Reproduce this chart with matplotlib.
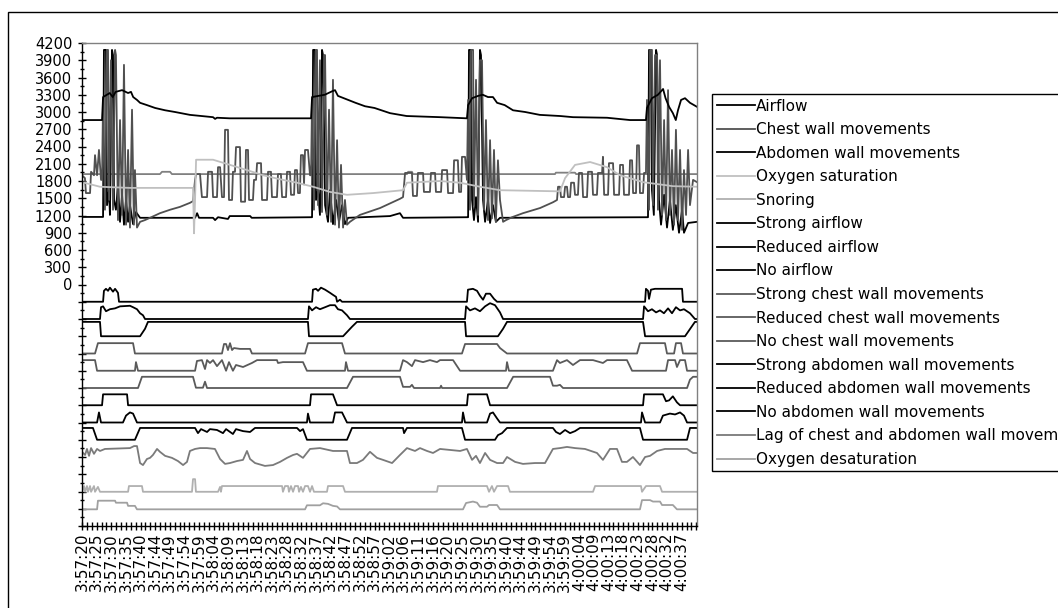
import matplotlib
matplotlib.use("Agg")
import matplotlib.pyplot as plt
from matplotlib.patches import Rectangle
from matplotlib.ticker import FixedLocator, FuncFormatter, MultipleLocator

# x = sample number, 10 samples between two time labels
time_labels = ['3:57:20', '3:57:25', '3:57:30', '3:57:35', '3:57:40', '3:57:44', '3:57:49',
               '3:57:54', '3:57:59', '3:58:04', '3:58:09', '3:58:13', '3:58:18', '3:58:23',
               '3:58:28', '3:58:32', '3:58:37', '3:58:42', '3:58:47', '3:58:52', '3:58:57',
               '3:59:02', '3:59:06', '3:59:11', '3:59:16', '3:59:20', '3:59:25', '3:59:30',
               '3:59:35', '3:59:40', '3:59:44', '3:59:49', '3:59:54', '3:59:59', '4:00:04',
               '4:00:09', '4:00:13', '4:00:18', '4:00:23', '4:00:28', '4:00:32', '4:00:37']

# --- raw signals ---
airflow_t = [0, 13.7, 14.4, 15, 16.4, 17.1, 18.5, 19.1, 20.5, 21.2, 21.9, 23.2, 24.6, 26, 27.4, 28.7,
             30.1, 31.5, 32.8, 34.9, 36.9, 39.7, 56.8, 77.3, 78.7, 80, 89.6, 91, 93, 99.8, 101, 115,
             116, 156.6, 157.3, 158, 159.3, 160, 161.4, 162.7, 164.1, 164.8, 166.2, 168.2, 169.6,
             171.6, 173.7, 175.7, 177.8, 179.8, 181.9, 210.6, 217.4, 219.5, 263.2, 264, 264.6, 266,
             266.7, 268, 269.4, 270.8, 272.1, 272.8, 274.2, 275.6, 277.6, 279, 281, 283, 285.8,
             386.3, 387, 387.7, 389, 389.7, 391, 392.5, 393.2, 394.5, 395.9, 398, 400, 402, 404,
             406, 408.2, 410.3, 411.6, 414.4, 420.5]
airflow_v = [1175, 1175, 1175, 4080, 4080, 1380, 1640, 1210, 4080, 3990, 1470, 1300, 1730, 1090, 1560,
             1040, 1470, 1090, 1380, 1050, 1260, 1160, 1160, 1160, 1240, 1160, 1160, 1120, 1170, 1140,
             1190, 1190, 1160, 1170, 1170, 4080, 4080, 1470, 1640, 1210, 4080, 3990, 1380, 1090, 1640,
             1050, 1470, 1090, 1380, 1050, 1160, 1190, 1240, 1160, 1170, 1170, 4080, 4080, 1470, 1120,
             1520, 1090, 4080, 3990, 1470, 1090, 1470, 1070, 1380, 1090, 1160, 1170, 1170, 4080, 4080,
             1640, 1210, 4080, 3990, 1470, 1040, 1560, 990, 1470, 950, 1380, 900, 1300, 900, 1070, 1090]

chest_t = [0, 2, 2.7, 5.5, 6.2, 8.2, 8.9, 10.3, 11.6, 13, 13.7, 14.4, 15.7, 17.1, 17.8, 18.5, 19.8,
           21.2, 22.6, 23.2, 24.6, 26, 27.4, 28.7, 30.1, 31.5, 32.8, 34.2, 35.5, 36.2, 37.6, 39.7,
           43, 46.5, 53.3, 60.2, 67, 73.8, 75.9, 77.3, 78, 80.7, 82, 85.5, 86.2, 88.9, 89.6, 92.3,
           93, 94.4, 95.7, 97.1, 97.8, 99.8, 100.5, 102.6, 103.2, 104.6, 105.3, 108, 108.7, 111.5,
           112.1, 113.5, 114.2, 116.9, 117.6, 119, 119.7, 122.4, 123.1, 126.5, 127.2, 129.2, 129.9,
           133.3, 134, 136, 136.8, 139.5, 140.2, 142.2, 142.9, 145, 145.6, 147, 147.7, 149, 149.7,
           151.1, 151.8, 152.5, 154.5, 155.9, 156.6, 157.3, 158.6, 160, 160.7, 161.4, 162.7, 164.1,
           165.5, 166.2, 167.5, 168.9, 170.3, 171.6, 173, 174.4, 175.7, 177.1, 178.5, 179.8, 181.2,
           183.2, 190, 203.8, 217.4, 219.5, 220.9, 225.6, 226.3, 229, 229.7, 233.2, 233.8, 237.9,
           238.6, 241.4, 242, 245.5, 246.2, 249.6, 250.3, 253.7, 254.4, 257, 257.8, 259.2, 259.8,
           261.9, 263.2, 264, 265.3, 266, 267.4, 268, 269.4, 270.8, 272.1, 273.5, 274.9, 276.2,
           277.6, 279, 280.3, 281.7, 283, 284.4, 285.8, 287.9, 289.9, 294, 301.5, 313.2, 322, 324.8,
           325.5, 326.8, 327.5, 329.6, 330.3, 331.6, 332.3, 333.7, 334.4, 336.4, 337.1, 339.1, 339.8,
           341.9, 342.6, 345.3, 346, 348.7, 349.4, 352.1, 352.8, 355.6, 356.2, 357, 359.7, 360.3,
           363.1, 363.8, 367.2, 367.9, 369.9, 370.6, 374, 374.7, 376.1, 376.8, 378.8, 379.5, 380.8,
           381.5, 383.6, 384.3, 385.6, 386.3, 387.7, 388.4, 389.7, 390.4, 391.8, 393.2, 393.8, 395.2,
           396.6, 398, 399.3, 400.7, 402, 403.4, 404.8, 406.1, 407.5, 408.9, 410.3, 411.6, 413,
           414.4, 415.7, 417.8, 420.5]
chest_v = [1900, 1850, 1590, 1590, 1960, 1900, 2250, 1900, 2340, 1820, 1820, 3210, 1300, 4080, 4080,
           1470, 3900, 1300, 4080, 3990, 1120, 2860, 1210, 3820, 1040, 2340, 990, 3040, 1040, 1990,
           990, 1090, 1120, 1160, 1240, 1300, 1350, 1420, 1450, 1820, 1920, 1920, 1520, 1520, 1960,
           1960, 1520, 1520, 2040, 2040, 1520, 1520, 2690, 2690, 1470, 1470, 1960, 1960, 2390, 2390,
           1440, 1440, 2340, 2340, 1470, 1470, 1820, 1820, 2110, 2110, 1470, 1470, 1960, 1960, 1520,
           1520, 1920, 1920, 1520, 1520, 1960, 1960, 1560, 1560, 1990, 1990, 1590, 1590, 2250, 2250,
           1740, 2340, 2340, 1900, 1900, 3210, 1300, 4080, 4080, 1380, 3900, 1260, 3990, 3990, 1210,
           3040, 1090, 3560, 1040, 2510, 990, 2080, 990, 1470, 1040, 1090, 1210, 1330, 1490, 1520,
           1940, 1940, 1540, 1540, 1940, 1940, 1610, 1610, 1940, 1940, 1610, 1610, 1990, 1990, 1590,
           1590, 2160, 2160, 1610, 1610, 2220, 2220, 1820, 3210, 1300, 4080, 4080, 1380, 3560, 1210,
           3900, 3900, 1300, 2860, 1120, 2510, 1150, 2340, 1090, 2160, 1470, 1090, 1120, 1170, 1240,
           1330, 1430, 1470, 1700, 1700, 1520, 1520, 1700, 1700, 1520, 1520, 1770, 1770, 1560, 1560,
           1940, 1940, 1520, 1520, 1960, 1960, 1560, 1560, 1940, 1940, 2220, 1560, 1560, 2110, 2110,
           1560, 1560, 2080, 2080, 1560, 1560, 2160, 2160, 1590, 1590, 2420, 2420, 1590, 1590, 1940,
           1940, 3210, 1300, 4080, 4080, 1380, 3990, 3990, 1300, 3900, 1210, 2860, 1120, 3380, 1210,
           2340, 1040, 2690, 1120, 2340, 950, 1990, 1210, 2340, 1380, 1820, 1780]

abdomen_t = [0, 13.7, 14.4, 19, 21, 23, 27.4, 31.5, 33.5, 35, 37.6, 39.7, 44.4, 50, 56.8, 63.6, 73.8,
             89.6, 91, 92.3, 101, 156.6, 157.3, 166, 171, 173, 175, 180, 187, 193.5, 200, 210.6, 222,
             245, 263.2, 264, 266.7, 270.8, 274, 277.6, 281, 283.8, 289, 294.7, 303, 313, 327, 335.7,
             359, 374.7, 385.6, 386.3, 389.7, 393.8, 397.3, 399, 401.4, 404, 406, 407.5, 409.6, 412.3,
             415.7, 420.5]
abdomen_v = [2860, 2860, 3260, 3330, 3260, 3350, 3380, 3330, 3350, 3260, 3210, 3160, 3120, 3070, 3030,
             3000, 2950, 2910, 2880, 2900, 2890, 2890, 3260, 3300, 3360, 3380, 3280, 3230, 3160, 3100,
             3070, 2980, 2930, 2910, 2890, 3120, 3240, 3280, 3300, 3260, 3260, 3160, 3120, 3030, 3000,
             2950, 2930, 2910, 2900, 2860, 2860, 3070, 3240, 3300, 3400, 3240, 3090, 2980, 2860, 3030,
             3210, 3240, 3160, 3090]

o2sat_t = [0, 12.3, 32.8, 75.9, 76.6, 77.3, 78, 89.6, 101.2, 112.8, 123.8, 135.4, 147, 158, 169.6,
           181.2, 199, 219.5, 222.2, 244.8, 258.5, 272.1, 285.8, 326.8, 330.3, 337.1, 347.4, 359,
           367.9, 383.6, 404, 420.5]
o2sat_v = [1780, 1700, 1680, 1680, 890, 1470, 2170, 2170, 2080, 1990, 1900, 1830, 1770, 1700, 1610,
           1560, 1590, 1640, 1770, 1800, 1770, 1700, 1640, 1620, 1850, 2080, 2130, 2040, 1900, 1780,
           1710, 1700]

# flat grey trace near 1900 (not in the legend)
baseline_t = [0, 53.3, 54.7, 60.2, 61.5, 222.2, 223, 225.6, 226.3, 323.4, 324, 337.1, 337.8, 420.5]
baseline_v = [1920, 1920, 1960, 1960, 1920, 1920, 1960, 1960, 1920, 1920, 1945, 1945, 1920, 1920]

snoring_t = [0, 1.4, 2.1, 3.4, 4.1, 5.5, 6.2, 8.2, 8.9, 10.9, 12.3, 31.5, 32.1, 41, 41.7, 75.2, 75.9,
             77.3, 77.9, 93, 94.4, 95, 95.7, 136.8, 137.4, 138.8, 140.9, 141.5, 142.9, 144.3, 145.6,
             147.7, 148.4, 149.7, 151.1, 152.5, 154.5, 155.9, 157.3, 158.6, 167.5, 168.2, 178.5, 179.8,
             242.7, 243.4, 276.9, 278.3, 280.3, 281.7, 283.8, 291.3, 292.6, 349.4, 350.8, 382.2, 382.9,
             385.6, 395.2, 396.6, 420.5]
snoring_v = [-3605, -3505, -3605, -3505, -3605, -3505, -3605, -3505, -3605, -3520, -3605, -3605, -3505,
             -3505, -3605, -3605, -3385, -3385, -3605, -3605, -3520, -3605, -3505, -3505, -3605, -3505,
             -3505, -3605, -3505, -3605, -3505, -3505, -3605, -3520, -3605, -3505, -3505, -3605, -3505,
             -3605, -3605, -3505, -3505, -3605, -3605, -3505, -3505, -3605, -3505, -3605, -3505, -3505,
             -3605, -3605, -3505, -3505, -3605, -3505, -3505, -3605, -3605]

# --- event channels ---
strong_air_t = [0, 14.4, 15, 16.4, 17.8, 19.1, 21.2, 22.6, 24.6, 25.3, 157.3, 157.9, 160, 161.4, 163.4,
                166.2, 169.6, 171.6, 173.7, 174.4, 176.4, 177.8, 263.2, 263.9, 267.3, 270.1, 272.1,
                274.2, 276.2, 279, 281.7, 283.8, 385, 385.6, 387, 387.7, 389, 391.8, 410.3, 410.9, 420.5]
strong_air_v = [-300, -300, -110, -75, -110, -55, -125, -75, -145, -300, -300, -90, -75, -110, -55,
                -90, -145, -180, -215, -300, -265, -300, -300, -90, -75, -110, -195, -265, -160, -160,
                -250, -300, -300, -75, -110, -250, -90, -75, -75, -300, -300]

reduced_air_t = [0, 12.3, 13, 14.4, 16.4, 19.1, 22.6, 26, 32.8, 34.9, 37.6, 39.7, 41.7, 43.1, 154.5,
                 155.2, 157.3, 160, 162.7, 166.2, 169.6, 173, 175, 177.8, 181.2, 183.2, 261.9, 262.6,
                 265.3, 268.7, 272.1, 275.6, 279, 282.4, 285.8, 287.9, 383.6, 384.3, 387, 389.7,
                 392.5, 395.2, 397.9, 400.7, 403.4, 406.1, 408.9, 411.6, 415.7, 419.1, 420.5]
reduced_air_v = [-600, -600, -395, -380, -465, -430, -415, -380, -370, -395, -430, -500, -535, -600,
                 -600, -380, -450, -395, -430, -395, -360, -360, -430, -450, -535, -600, -600, -380,
                 -450, -415, -465, -380, -325, -360, -485, -600, -600, -380, -465, -430, -485, -450,
                 -500, -415, -500, -395, -450, -430, -500, -600, -600]

no_air_t = [0, 12.3, 13, 39.7, 43.1, 45.1, 154.5, 155.2, 178.5, 184.6, 188, 261.9, 262.6, 284.4,
            287.9, 290.6, 383.6, 385, 412.3, 419.1, 420.5]
no_air_v = [-650, -650, -900, -900, -770, -650, -650, -900, -900, -735, -650, -650, -900, -900,
            -770, -650, -650, -900, -900, -650, -650]

strong_chest_t = [0, 8.9, 10.9, 34.9, 36.2, 95.7, 97.1, 98.5, 99.8, 101.2, 102.6, 103.9, 108, 114.9,
                  116.2, 152.5, 154.5, 177.8, 179.8, 259.8, 261.9, 283.8, 285.8, 290.6, 379.5,
                  381.5, 398.6, 400, 404.8, 406.1, 409.6, 410.9, 420.5]
strong_chest_v = [-1200, -1200, -1020, -1020, -1200, -1200, -1035, -1035, -1140, -1020, -1140, -1105,
                  -1120, -1120, -1200, -1200, -1020, -1020, -1200, -1200, -1035, -1035, -1105, -1200,
                  -1200, -1020, -1020, -1200, -1200, -1020, -1020, -1200, -1200]

reduced_chest_t = [0, 8.9, 10.3, 36.2, 36.9, 38.3, 77.3, 78.6, 82, 84.1, 85.5, 87.5, 89.6, 92.3, 95.7,
                   98.5, 100.5, 103.2, 105.3, 110.1, 116.2, 119.7, 133.3, 134, 137.4, 151.1, 153.8,
                   179.8, 180.5, 181.9, 217.4, 219.5, 222.2, 225.6, 227.7, 233.2, 237.9, 242.7, 244.8,
                   253.7, 258.5, 289.9, 290.6, 291.9, 322, 324.8, 326.8, 331.6, 335.7, 340.5, 349.4,
                   356.2, 359, 372.6, 376.1, 399.3, 400.7, 405.5, 406.8, 408.9, 412.3, 413.7, 420.5]
reduced_chest_v = [-1315, -1315, -1500, -1500, -1350, -1500, -1500, -1330, -1315, -1470, -1315, -1365,
                   -1315, -1420, -1315, -1500, -1350, -1500, -1400, -1435, -1365, -1315, -1315, -1365,
                   -1350, -1350, -1500, -1500, -1350, -1500, -1500, -1315, -1350, -1420, -1315, -1350,
                   -1315, -1350, -1315, -1315, -1500, -1500, -1350, -1500, -1500, -1315, -1365, -1315,
                   -1400, -1315, -1315, -1365, -1315, -1315, -1500, -1500, -1315, -1315, -1435, -1315,
                   -1315, -1500, -1500]

no_chest_t = [0, 38.3, 41, 75.9, 77.9, 82.7, 84.1, 85.5, 181.2, 185.3, 217.4, 219.5, 224.3, 225.6, 227,
              244.8, 245.5, 246.2, 290.6, 294.8, 320, 322, 324.8, 326.8, 328.9, 413.7, 415.7, 417.8,
              420.5]
no_chest_v = [-1800, -1800, -1605, -1605, -1795, -1795, -1690, -1800, -1800, -1605, -1605, -1780,
              -1780, -1745, -1800, -1800, -1760, -1800, -1800, -1605, -1605, -1760, -1760, -1745,
              -1800, -1800, -1655, -1605, -1605]

strong_abd_t = [0, 13.7, 14.4, 30.8, 31.5, 155.9, 156.6, 171.6, 174.4, 263.2, 263.9, 276.9, 279,
                383.6, 384.3, 397.2, 399.3, 401.4, 404, 406.8, 408.9, 420.5]
strong_abd_v = [-2100, -2100, -1910, -1910, -2100, -2100, -1910, -1910, -2100, -2100, -1910, -1910,
                -2100, -2100, -1910, -1910, -2030, -2015, -1945, -2050, -2100, -2100]

reduced_abd_t = [0, 10.3, 11.6, 13, 28, 30.1, 32.8, 34.9, 37.6, 153.8, 154.5, 155.9, 171.6, 173,
                 177.8, 181.2, 259.8, 260.5, 261.9, 276.9, 279, 281, 283.8, 285.8, 382.2, 382.9, 385,
                 395.2, 397.2, 402, 405.5, 408.9, 411.6, 413.7, 420.5]
reduced_abd_v = [-2400, -2400, -2225, -2400, -2400, -2280, -2225, -2245, -2400, -2400, -2245, -2400,
                 -2400, -2225, -2225, -2400, -2400, -2225, -2400, -2400, -2245, -2225, -2330, -2400,
                 -2400, -2225, -2400, -2400, -2280, -2245, -2260, -2225, -2280, -2400, -2400]

no_abd_t = [0, 7.5, 10.3, 36.2, 39.7, 77.3, 79.3, 81.4, 85.5, 87.5, 92.3, 96.4, 98.5, 103.2, 105.3,
            110.1, 114.9, 118.3, 147, 149.1, 151.1, 153.8, 181.2, 184.6, 219.5, 220.2, 222.2, 259.8,
            261.9, 282.4, 284.4, 287.2, 290.6, 322, 324.1, 326.8, 330.3, 333.7, 337.1, 340.5, 381.5,
            383.6, 413.7, 415.7, 420.5]
no_abd_v = [-2495, -2495, -2700, -2700, -2495, -2495, -2585, -2515, -2565, -2515, -2530, -2585, -2515,
            -2600, -2515, -2550, -2565, -2495, -2495, -2550, -2515, -2700, -2700, -2495, -2495, -2585,
            -2495, -2495, -2700, -2700, -2620, -2585, -2495, -2495, -2565, -2600, -2530, -2585, -2550,
            -2495, -2495, -2700, -2700, -2495, -2495]

lag_t = [0, 2.1, 3.4, 4.8, 6.2, 8.2, 10.3, 12.3, 15.7, 32.8, 35.6, 37.6, 39.7, 41.7, 44.4, 46.5, 48.5,
         51.3, 53.3, 56.8, 61.5, 65.6, 69.1, 71.8, 73.8, 77.3, 80.7, 85.5, 90.9, 94.4, 97.8, 101.2,
         106, 110.1, 112.8, 114.9, 118.3, 125.1, 130.6, 135.4, 140.2, 144.3, 147, 151.1, 155.9,
         162.7, 171.6, 181.2, 183.2, 188, 192.1, 196.9, 201.7, 205.8, 212, 217.4, 222.2, 227.7,
         231.1, 235.9, 240, 244.8, 258.5, 263.2, 266.7, 269.4, 272.1, 275.6, 279, 283.8, 287.9,
         290.6, 296.1, 301.5, 309.7, 316.6, 322, 326.8, 331.6, 337.1, 343.9, 352.1, 356.2, 361,
         365.8, 369.2, 372.6, 376.7, 381.5, 385, 388.4, 393.2, 398.6, 413.7, 417.8, 420.5]
lag_v = [-2910, -2965, -2860, -2980, -2845, -2945, -2860, -2895, -2860, -2845, -2810, -2810, -3105,
         -3140, -3035, -3015, -2965, -2860, -2910, -2980, -3015, -3070, -3140, -3085, -2895, -2860,
         -2845, -2845, -2860, -3035, -3120, -3105, -3070, -3050, -2895, -3035, -3105, -3155, -3140,
         -3085, -3015, -2965, -2945, -3015, -2860, -2845, -2895, -2895, -3105, -3105, -3050, -2910,
         -3015, -3050, -3105, -2965, -2845, -2895, -2845, -2895, -2930, -2860, -2895, -2860, -3050,
         -2980, -3105, -2930, -3050, -3105, -3105, -3000, -3085, -3120, -3105, -3105, -2860, -2845,
         -2825, -2845, -2860, -2930, -3050, -2860, -2860, -3085, -3085, -3000, -3140, -3000, -2980,
         -2895, -2860, -2860, -2930, -2930]

desat_t = [0, 10.3, 10.9, 22.6, 23.2, 30.8, 31.5, 36.2, 37.6, 152.5, 153.8, 162.7, 164.8, 168.2,
           171.6, 174.4, 176.4, 260.5, 262.6, 267.3, 270.1, 272.1, 276.9, 278.3, 283.8, 285.8,
           381.5, 382.9, 388.4, 390.4, 395.2, 396.6, 404, 406.8, 420.5]
desat_v = [-3910, -3910, -3760, -3760, -3795, -3795, -3850, -3850, -3910, -3910, -3840, -3840, -3805,
           -3815, -3850, -3860, -3910, -3910, -3800, -3775, -3795, -3865, -3865, -3835, -3835, -3910,
           -3910, -3750, -3750, -3775, -3775, -3835, -3835, -3910, -3910]

fig = plt.figure(figsize=(10.58, 6.08), dpi=100)
ax = fig.add_axes([82 / 1058, 82 / 608, 615 / 1058, 483 / 608])

lw = 1.3
ax.plot(baseline_t, baseline_v, color='#808080', lw=lw)
series = [
    (airflow_t, airflow_v, 'Airflow', '#000000'),
    (chest_t, chest_v, 'Chest wall movements', '#505050'),
    (abdomen_t, abdomen_v, 'Abdomen wall movements', '#000000'),
    (o2sat_t, o2sat_v, 'Oxygen saturation', '#c0c0c0'),
    (snoring_t, snoring_v, 'Snoring', '#b0b0b0'),
    (strong_air_t, strong_air_v, 'Strong airflow', '#000000'),
    (reduced_air_t, reduced_air_v, 'Reduced airflow', '#000000'),
    (no_air_t, no_air_v, 'No airflow', '#000000'),
    (strong_chest_t, strong_chest_v, 'Strong chest wall movements', '#5a5a5a'),
    (reduced_chest_t, reduced_chest_v, 'Reduced chest wall movements', '#5a5a5a'),
    (no_chest_t, no_chest_v, 'No chest wall movements', '#5a5a5a'),
    (strong_abd_t, strong_abd_v, 'Strong abdomen wall movements', '#000000'),
    (reduced_abd_t, reduced_abd_v, 'Reduced abdomen wall movements', '#000000'),
    (no_abd_t, no_abd_v, 'No abdomen wall movements', '#000000'),
    (lag_t, lag_v, 'Lag of chest and abdomen wall movements', '#7a7a7a'),
    (desat_t, desat_v, 'Oxygen desaturation', '#a0a0a0'),
]
handles = []
for t, v, name, col in series:
    h, = ax.plot(t, v, color=col, lw=lw, label=name)
    handles.append(h)

ax.set_xlim(0, 420.5)
ax.set_ylim(-4200, 4200)

# y axis: ticks every 300, only non-negative values labelled
ax.yaxis.set_major_locator(FixedLocator(list(range(-4200, 4201, 300))))
ax.yaxis.set_major_formatter(FuncFormatter(lambda v, p: f'{int(v)}' if v >= 0 else ''))
ax.yaxis.set_minor_locator(MultipleLocator(150))
ax.tick_params(axis='y', which='major', direction='inout', length=6, width=1, labelsize=10.5, pad=4)
ax.tick_params(axis='y', which='minor', direction='inout', length=3, width=1)

# x axis: one time label every 10 samples
ax.set_xticks([10 * i for i in range(len(time_labels))])
ax.set_xticklabels(time_labels, rotation=90, fontsize=11)
ax.xaxis.set_minor_locator(MultipleLocator(10 / 3))
ax.tick_params(axis='x', which='major', direction='inout', length=6, width=1, pad=2)
ax.tick_params(axis='x', which='minor', direction='inout', length=6, width=1)

for side in ['left', 'bottom']:
    ax.spines[side].set_color('black')
    ax.spines[side].set_linewidth(1)
for side in ['top', 'right']:
    ax.spines[side].set_color('#808080')
    ax.spines[side].set_linewidth(1)

leg = fig.legend(handles=handles, loc='upper left', bbox_to_anchor=(712 / 1058, (608 - 94) / 608),
                 fontsize=11, frameon=True, fancybox=False, edgecolor='black', framealpha=1,
                 borderpad=0.3, labelspacing=0.56, handlelength=2.5, handletextpad=0.1,
                 borderaxespad=0)
leg.get_frame().set_linewidth(1)

# outer chart border (runs off the right and bottom of the picture)
fig.add_artist(Rectangle((8 / 1058, -0.1), 1.2, (608 - 12) / 608 + 0.1, transform=fig.transFigure,
                         fill=False, edgecolor='black', lw=1))

fig.savefig('out.png', dpi=100)
